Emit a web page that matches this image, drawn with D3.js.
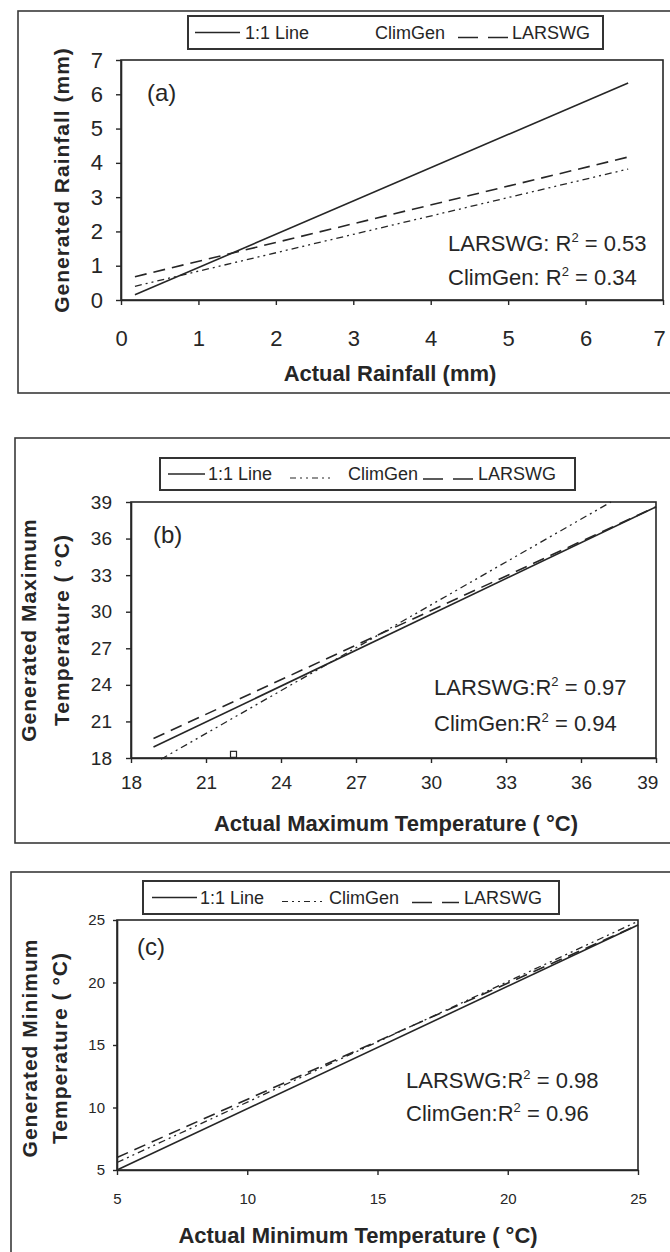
<!DOCTYPE html>
<html>
<head>
<meta charset="utf-8">
<script src="https://cdn.jsdelivr.net/npm/d3@7"></script>
<style>
  body { margin: 0; background: #fff; }
  svg text { font-family: "Liberation Sans", Arial, sans-serif; fill: #262626; }
</style>
</head>
<body>
<svg id="chart" width="670" height="1252"></svg>
<script>
// ---- values ----
// (a) rainfall
const rainTicks = [0, 1, 2, 3, 4, 5, 6, 7];
const rainOneToOne = [[0.18, 0.15], [6.55, 6.33]];
const rainLARSWG = [[0.18, 0.68], [6.55, 4.17]];
const rainClimGen = [[0.18, 0.40], [6.55, 3.82]];
const rainR2 = ["0.53", "0.34"];          // LARSWG, ClimGen

// (b) maximum temperature
const tmaxTicks = [18, 21, 24, 27, 30, 33, 36, 39];
const tmaxOneToOne = [[18.9, 18.9], [39, 38.6]];
const tmaxLARSWG = [[18.9, 19.6], [39, 38.6]];
const tmaxClimGen = [[19.2, 17.9], [37.2, 39]];
const tmaxMarks = [[22.1, 18.3]];
const tmaxR2 = ["0.97", "0.94"];

// (c) minimum temperature
const tminTicks = [5, 10, 15, 20, 25];
const tminOneToOne = [[5, 5], [25, 24.6]];
const tminLARSWG = [[5, 6.0], [25, 24.6]];
const tminClimGen = [[5, 5.6], [25, 24.9]];
const tminR2 = ["0.98", "0.96"];

const ink = "#262626";
const dashLARSWG = "12,7";
const dashClimGen = "7,4,2,4,2,4";

const svg = d3.select("#chart");

const panels = [
  {
    tag: "(a)", tagX: 147, tagY: 93,
    frame: [18, 11, 720, 382],
    ticks: rainTicks, xDom: [0, 7], yDom: [0, 7],
    xr: [121, 663], yr: [300, 60],
    tickFont: 22, padX: 25, padY: 13, yTick: 5,
    oneToOne: rainOneToOne, larswg: rainLARSWG, climgen: rainClimGen, marks: [],
    r2: rainR2, r2Sep: ": ", r2X: 448, r2Y: [243, 277],
    xTitle: "Actual Rainfall (mm)", xTitleX: 390, xTitleY: 381,
    yTitle: ["Generated Rainfall (mm)"], yTitleX: [62], yTitleY: 180,
    legend: { box: [188, 16, 603, 49], solid: [195, 240], one: 245, dd: null, clim: 375, dash: [458, 508], lars: 512 }
  },
  {
    tag: "(b)", tagX: 153, tagY: 535,
    frame: [15, 438, 720, 405],
    ticks: tmaxTicks, xDom: [18, 39], yDom: [18, 39],
    xr: [131, 656], yr: [758, 502],
    tickFont: 19, padX: 13, padY: 14, yTick: 5,
    oneToOne: tmaxOneToOne, larswg: tmaxLARSWG, climgen: tmaxClimGen, marks: tmaxMarks,
    r2: tmaxR2, r2Sep: ":", r2X: 434, r2Y: [687, 723],
    xTitle: "Actual Maximum Temperature (  \u00B0C)", xTitleX: 396, xTitleY: 831,
    yTitle: ["Generated Maximum", "Temperature ( \u00B0C)"], yTitleX: [29, 62], yTitleY: 630,
    legend: { box: [160, 458, 575, 490], solid: [168, 205], one: 208, dd: [290, 330], clim: 348, dash: [423, 473], lars: 478 }
  },
  {
    tag: "(c)", tagX: 137, tagY: 947,
    frame: [11, 872, 720, 420],
    ticks: tminTicks, xDom: [5, 25], yDom: [5, 25],
    xr: [117, 638], yr: [1170, 920],
    tickFont: 15, padX: 18, padY: 8, yTick: 4,
    oneToOne: tminOneToOne, larswg: tminLARSWG, climgen: tminClimGen, marks: [],
    r2: tminR2, r2Sep: ":", r2X: 406, r2Y: [1080, 1113],
    xTitle: "Actual Minimum Temperature (  \u00B0C)", xTitleX: 358, xTitleY: 1243,
    yTitle: ["Generated Minimum", "Temperature ( \u00B0C)"], yTitleX: [30, 60], yTitleY: 1048,
    legend: { box: [143, 881, 559, 914], solid: [152, 197], one: 200, dd: [282, 323], clim: 329, dash: [412, 459], lars: 464 }
  }
];

panels.forEach(drawPanel);

function drawPanel(p) {
  const x = d3.scaleLinear().domain(p.xDom).range(p.xr);
  const y = d3.scaleLinear().domain(p.yDom).range(p.yr);
  const g = svg.append("g");

  // outer frame of the panel
  g.append("rect")
    .attr("x", p.frame[0]).attr("y", p.frame[1])
    .attr("width", p.frame[2]).attr("height", p.frame[3])
    .attr("fill", "none").attr("stroke", "#3a3a3a").attr("stroke-width", 1.6);

  // plot box
  g.append("rect")
    .attr("x", x(p.xDom[0])).attr("y", y(p.yDom[1]))
    .attr("width", x(p.xDom[1]) - x(p.xDom[0]))
    .attr("height", y(p.yDom[0]) - y(p.yDom[1]))
    .attr("fill", "none").attr("stroke", ink).attr("stroke-width", 1.6);

  // axes
  const fmt = d3.format("d");
  const ax = g.append("g")
    .attr("transform", "translate(0," + y(p.yDom[0]) + ")")
    .call(d3.axisBottom(x).tickValues(p.ticks).tickFormat(fmt)
      .tickSize(5).tickSizeOuter(0).tickPadding(p.padX));
  const ay = g.append("g")
    .attr("transform", "translate(" + x(p.xDom[0]) + ",0)")
    .call(d3.axisLeft(y).tickValues(p.ticks).tickFormat(fmt)
      .tickSize(p.yTick).tickSizeOuter(0).tickPadding(p.padY));
  [ax, ay].forEach(a => {
    a.select(".domain").attr("stroke", ink).attr("stroke-width", 1.6);
    a.selectAll(".tick line").attr("stroke", ink).attr("stroke-width", 1.4);
    a.selectAll(".tick text")
      .attr("font-size", p.tickFont)
      .attr("font-family", "Liberation Sans, Arial, sans-serif")
      .attr("fill", ink);
  });
  // last x label sits on the right edge of the page; keep it inside
  ax.selectAll(".tick text").filter(d => x(d) > 650).attr("text-anchor", "end").attr("dx", "0.1em");

  // lines
  const line = d3.line().x(d => x(d[0])).y(d => y(d[1]));
  g.append("path").datum(p.oneToOne).attr("d", line)
    .attr("fill", "none").attr("stroke", ink).attr("stroke-width", 1.6);
  g.append("path").datum(p.larswg).attr("d", line)
    .attr("fill", "none").attr("stroke", ink).attr("stroke-width", 1.6)
    .attr("stroke-dasharray", dashLARSWG);
  g.append("path").datum(p.climgen).attr("d", line)
    .attr("fill", "none").attr("stroke", ink).attr("stroke-width", 1.3)
    .attr("stroke-dasharray", dashClimGen);

  g.selectAll(".mark").data(p.marks).enter().append("rect")
    .attr("x", d => x(d[0]) - 3).attr("y", d => y(d[1]) - 3)
    .attr("width", 6).attr("height", 6)
    .attr("fill", "none").attr("stroke", ink).attr("stroke-width", 1.2);

  // panel tag
  g.append("text").attr("x", p.tagX).attr("y", p.tagY)
    .attr("dy", "0.35em").attr("font-size", 24).text(p.tag);

  // R^2 notes
  ["LARSWG", "ClimGen"].forEach((name, i) => {
    const t = g.append("text").attr("x", p.r2X).attr("y", p.r2Y[i])
      .attr("dy", "0.35em").attr("font-size", 22);
    t.append("tspan").text(name + p.r2Sep + "R");
    t.append("tspan").attr("font-size", 13).attr("dy", -9).text("2");
    t.append("tspan").attr("dy", 9).text(" = " + p.r2[i]);
  });

  // axis titles
  g.append("text").attr("x", p.xTitleX).attr("y", p.xTitleY)
    .attr("text-anchor", "middle").attr("font-size", 22).attr("font-weight", "bold")
    .text(p.xTitle);
  p.yTitle.forEach((s, i) => {
    g.append("text")
      .attr("transform", "translate(" + p.yTitleX[i] + "," + p.yTitleY + ") rotate(-90)")
      .attr("text-anchor", "middle").attr("dy", "0.35em")
      .attr("font-size", 21).attr("font-weight", "bold").attr("letter-spacing", 1)
      .text(s);
  });

  // legend
  const L = p.legend, cy = (L.box[1] + L.box[3]) / 2;
  const lg = g.append("g").attr("font-size", 18);
  lg.append("rect")
    .attr("x", L.box[0]).attr("y", L.box[1])
    .attr("width", L.box[2] - L.box[0]).attr("height", L.box[3] - L.box[1])
    .attr("fill", "#fff").attr("stroke", "#333").attr("stroke-width", 2);
  lg.append("line").attr("x1", L.solid[0]).attr("x2", L.solid[1]).attr("y1", cy).attr("y2", cy)
    .attr("stroke", ink).attr("stroke-width", 1.6);
  lg.append("text").attr("x", L.one).attr("y", cy).attr("dy", "0.35em").text("1:1 Line");
  if (L.dd) {
    lg.append("line").attr("x1", L.dd[0]).attr("x2", L.dd[1]).attr("y1", cy + 4).attr("y2", cy + 4)
      .attr("stroke", ink).attr("stroke-width", 1.2).attr("stroke-dasharray", "6,4,2,4,2,4");
  }
  lg.append("text").attr("x", L.clim).attr("y", cy).attr("dy", "0.35em").text("ClimGen");
  lg.append("line").attr("x1", L.dash[0]).attr("x2", L.dash[1]).attr("y1", cy + 5).attr("y2", cy + 5)
    .attr("stroke", ink).attr("stroke-width", 1.6).attr("stroke-dasharray", "20,10");
  lg.append("text").attr("x", L.lars).attr("y", cy).attr("dy", "0.35em").text("LARSWG");
}
</script>
</body>
</html>
